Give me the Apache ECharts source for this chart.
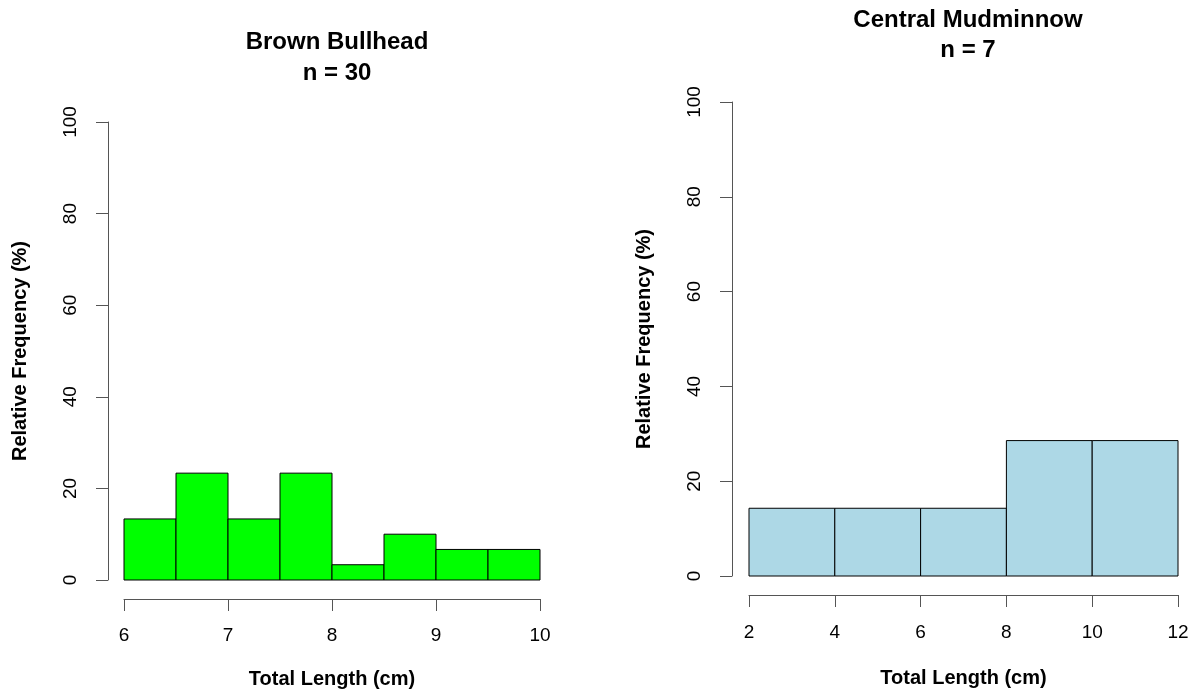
<!DOCTYPE html>
<html>
<head>
<meta charset="utf-8">
<title>Length frequency histograms</title>
<script src="https://cdn.jsdelivr.net/npm/echarts@6/dist/echarts.min.js"></script>
<style>
  html, body { margin: 0; padding: 0; background: #ffffff; }
  #chart { width: 1195px; height: 694px; }
</style>
</head>
<body>
<div id="chart"></div>
<script>
// Brown Bullhead: 0.5 cm bins from 6 to 10 cm
const bullheadBreaks = [6, 6.5, 7, 7.5, 8, 8.5, 9, 9.5, 10];
const bullheadPercent = [13.33, 23.33, 13.33, 23.33, 3.33, 10, 6.67, 6.67];

// Central Mudminnow: 2 cm bins from 2 to 12 cm
const mudminnowBreaks = [2, 4, 6, 8, 10, 12];
const mudminnowPercent = [14.29, 14.29, 14.29, 28.57, 28.57];

const titles = ['Brown Bullhead\nn = 30', 'Central Mudminnow\nn = 7'];
const xTicks = [[6, 7, 8, 9, 10], [2, 4, 6, 8, 10, 12]];
const yTicks = [0, 20, 40, 60, 80, 100];

const FONT = "'Liberation Sans', Arial, Helvetica, sans-serif";
const AXIS_COLOR = '#555555';

// Turn break points + heights into [start, end, height] rows.
function bins(breaks, values) {
  return values.map((v, i) => [breaks[i], breaks[i + 1], v]);
}

function renderBin(params, api) {
  const p0 = api.coord([api.value(0), 0]);
  const p1 = api.coord([api.value(1), api.value(2)]);
  return {
    type: 'rect',
    shape: { x: p0[0], y: p1[1], width: p1[0] - p0[0], height: p0[1] - p1[1] },
    style: { fill: api.visual('color'), stroke: '#000000', lineWidth: 1 }
  };
}

function xAxisFor(idx, ticks, offset, labelMargin, nameGap) {
  return {
    gridIndex: idx, type: 'value', position: 'bottom',
    min: ticks[0], max: ticks[ticks.length - 1],
    interval: ticks[1] - ticks[0],
    offset: offset,
    name: 'Total Length (cm)', nameLocation: 'middle', nameGap: nameGap,
    nameTextStyle: { fontFamily: FONT, fontSize: 20, fontWeight: 'bold', color: '#000' },
    axisLine: { show: true, onZero: false, lineStyle: { color: AXIS_COLOR, width: 1 } },
    axisTick: { show: true, length: 12, lineStyle: { color: AXIS_COLOR, width: 1 } },
    axisLabel: { margin: labelMargin, fontFamily: FONT, fontSize: 19, color: '#000' },
    splitLine: { show: false }
  };
}

function yAxisFor(idx, offset) {
  return {
    gridIndex: idx, type: 'value', position: 'left',
    min: yTicks[0], max: yTicks[yTicks.length - 1],
    interval: yTicks[1] - yTicks[0],
    offset: offset,
    name: 'Relative Frequency (%)', nameLocation: 'middle', nameGap: 78,
    nameTextStyle: { fontFamily: FONT, fontSize: 20, fontWeight: 'bold', color: '#000' },
    axisLine: { show: true, onZero: false, lineStyle: { color: AXIS_COLOR, width: 1 } },
    axisTick: { show: true, length: 12, lineStyle: { color: AXIS_COLOR, width: 1 } },
    axisLabel: { margin: 28, rotate: 90, fontFamily: FONT, fontSize: 19, color: '#000' },
    splitLine: { show: false }
  };
}

const chart = echarts.init(document.getElementById('chart'), null, { renderer: 'canvas' });

chart.setOption({
  animation: false,
  backgroundColor: '#ffffff',
  title: [
    { text: titles[0], left: 332, top: 22, textAlign: 'center',
      textStyle: { fontFamily: FONT, fontSize: 24, fontWeight: 'bold', color: '#000', lineHeight: 31 } },
    { text: titles[1], left: 963, top: 0, textAlign: 'center',
      textStyle: { fontFamily: FONT, fontSize: 24, fontWeight: 'bold', color: '#000', lineHeight: 30 } }
  ],
  grid: [
    { left: 124, top: 122, width: 416, height: 458 },
    { left: 749, top: 102, width: 429, height: 474 }
  ],
  xAxis: [
    xAxisFor(0, xTicks[0], 19, 27, 70),
    xAxisFor(1, xTicks[1], 19, 28, 73)
  ],
  yAxis: [
    yAxisFor(0, 16),
    yAxisFor(1, 17)
  ],
  series: [
    { type: 'custom', xAxisIndex: 0, yAxisIndex: 0, color: '#00ff00',
      encode: { x: [0, 1], y: 2 }, renderItem: renderBin,
      data: bins(bullheadBreaks, bullheadPercent) },
    { type: 'custom', xAxisIndex: 1, yAxisIndex: 1, color: '#add8e6',
      encode: { x: [0, 1], y: 2 }, renderItem: renderBin,
      data: bins(mudminnowBreaks, mudminnowPercent) }
  ]
});
</script>
</body>
</html>
